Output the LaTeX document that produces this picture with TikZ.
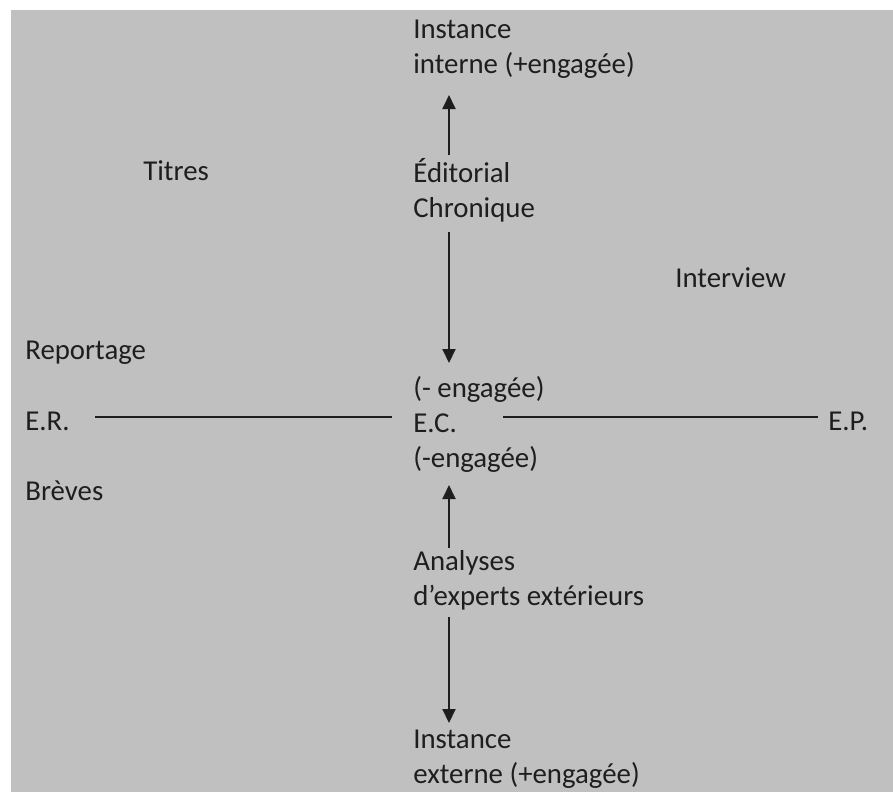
\documentclass[tikz,border=0pt]{standalone}
\usepackage{fontspec}
\setmainfont{Carlito}
\usepackage{tikz}
\usetikzlibrary{arrows.meta, positioning, calc}
\definecolor{fond}{HTML}{C0C0C0}
\definecolor{encre}{HTML}{1E1E1E}

\begin{document}
\begin{tikzpicture}[x=0.02cm,y=-0.02cm,
    font=\fontsize{16.4}{19.9}\selectfont,
    texte/.style={anchor=base west,inner sep=0,text=encre,align=left},
    fleche/.style={encre,line width=1.1pt,-{Triangle[width=0.26cm,length=0.28cm]}},
    trait/.style={encre,line width=0.9pt}]

  \useasboundingbox (0,0) rectangle (893,792);
  \fill[fond] (11,10) rectangle (893,792);

  % axe vertical : instances interne / externe
  \node[texte] (inst1) at (413,73) {Instance\\interne (+engagée)};
  \node[texte] (edito) at (413,217) {Éditorial\\Chronique};
  \node[texte] (centre) at (413,467) {(- engagée)\\E.C.\\(-engagée)};
  \node[texte] (analyses) at (413,605) {Analyses\\d’experts extérieurs};
  \node[texte] (inst2) at (413,783) {Instance\\externe (+engagée)};

  % axe horizontal et genres
  \node[texte] (titres) at (143,180) {Titres};
  \node[texte] (interview) at (675,287) {Interview};
  \node[texte] (reportage) at (25,359) {Reportage};
  \node[texte] (er) at (25,430) {E.R.};
  \node[texte] (breves) at (25,500) {Brèves};
  \node[texte] (ep) at (828,430) {E.P.};

  \draw[fleche] ($(edito.base west)+(36,-62)$) -- ($(inst1.base west)+(36,22)$);
  \draw[fleche] ($(edito.base west)+(36,15)$) -- ($(centre.base west)+(36,-104)$);
  \draw[fleche] ($(analyses.base west)+(36,-57)$) -- ($(centre.base west)+(36,18)$);
  \draw[fleche] ($(analyses.base west)+(36,12)$) -- ($(inst2.base west)+(36,-60)$);

  \draw[trait] ($(er.base west)+(70,-13)$) -- ($(centre.base west)+(-21,-50)$);
  \draw[trait] ($(centre.base west)+(90,-50)$) -- ($(ep.base west)+(-10,-13)$);
\end{tikzpicture}
\end{document}
